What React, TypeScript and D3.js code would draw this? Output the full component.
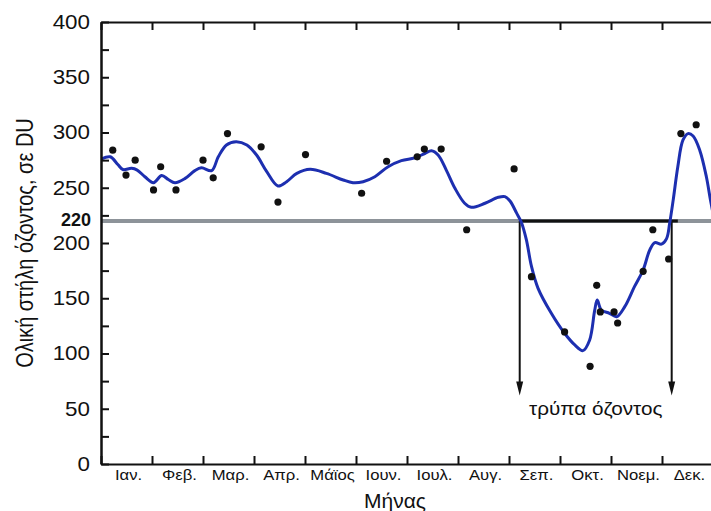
import { useEffect, useRef } from "react";
import * as d3 from "d3";

// month names (x axis), one per interval
const months = ["Ιαν.", "Φεβ.", "Μαρ.", "Απρ.", "Μάϊος", "Ιουν.", "Ιουλ.", "Αυγ.", "Σεπ.", "Οκτ.", "Νοεμ.", "Δεκ."];
const monthTicks = [0, 1, 2, 3, 4, 5, 6, 7, 8, 9, 10, 11, 12];
const yLabelTicks = [0, 50, 100, 150, 200, 250, 300, 350, 400];
const yMinorTicks = [25, 75, 125, 175, 225, 275, 325, 375];
const threshold = 220;

// smoothed curve (month position, DU)
const curveMonth = [0.01, 0.18, 0.33, 0.43, 0.6, 0.71, 0.86, 1.03, 1.19, 1.32, 1.45, 1.65, 1.84, 1.97, 2.17, 2.3, 2.46, 2.65, 2.86, 3.05, 3.25, 3.47, 3.64, 3.84, 4.1, 4.42, 4.75, 4.94, 5.14, 5.37, 5.63, 5.89, 6.15, 6.35, 6.48, 6.61, 6.77, 6.94, 7.13, 7.26, 7.53, 7.79, 7.92, 8.02, 8.15, 8.24, 8.34, 8.44, 8.57, 8.83, 9.09, 9.29, 9.45, 9.58, 9.68, 9.73, 9.81, 9.97, 10.11, 10.27, 10.46, 10.63, 10.76, 10.86, 10.99, 11.09, 11.15, 11.22, 11.31, 11.41, 11.51, 11.61, 11.74, 11.87, 11.95, 12.05];
const curveValue = [276, 278, 271, 266.5, 267.6, 266, 260, 254.6, 261, 257.5, 254.6, 258.5, 265.5, 268, 265.5, 278, 288.7, 291.7, 288.7, 279.6, 264.6, 251.6, 255.5, 263, 266.7, 263, 257, 254.6, 255.5, 260, 269, 274.5, 277, 281, 283.5, 279.6, 266, 249.5, 236, 232.3, 236, 241.4, 242, 238, 227, 219, 203, 179, 159, 136.4, 118.3, 107.7, 102.6, 112, 139, 148.4, 139.4, 136.4, 133.3, 142.4, 160.5, 175.6, 193.7, 200.3, 199, 204, 217.8, 239, 269, 293, 299, 296.8, 284, 260, 239, 215];

// measurements
const dotMonth = [0.23, 0.49, 0.67, 1.03, 1.17, 1.47, 2.0, 2.2, 2.48, 3.14, 3.47, 4.01, 5.11, 5.6, 6.2, 6.34, 6.67, 7.17, 8.1, 8.44, 9.09, 9.59, 9.72, 9.79, 10.06, 10.13, 10.63, 10.82, 11.13, 11.37, 11.67];
const dotValue = [284, 261.5, 275, 248, 269, 248, 275, 259, 299, 287, 237, 280, 245, 274, 278, 285, 285, 212, 267, 169.5, 119.5, 88.4, 161.7, 137.6, 137.6, 127.6, 174.4, 212, 185.5, 299, 307];

// ozone hole markers
const holeStart = 8.21;
const holeEnd = 11.19;
const holeLineEnd = 11.31;
const arrowValue = 62;

export default function App() {
  const ref = useRef<SVGSVGElement>(null);

  useEffect(() => {
    document.body.style.margin = "0";
    const svg = d3.select(ref.current);
    svg.selectAll("*").remove();

    const x = d3.scaleLinear().domain([0, 12]).range([101, 713]);
    const y = d3.scaleLinear().domain([0, 400]).range([464, 22]);
    const font = "'Liberation Sans', Arial, sans-serif";
    const stretch = 1.12; // glyphs in the original are a bit wide

    svg.append("defs").append("clipPath").attr("id", "plot")
      .append("rect").attr("x", 101).attr("y", 22).attr("width", 612).attr("height", 442);

    // threshold line
    svg.append("line")
      .attr("x1", x(0)).attr("x2", x(12))
      .attr("y1", y(threshold)).attr("y2", y(threshold))
      .attr("stroke", "#8d9399").attr("stroke-width", 4);

    // hole markers
    svg.append("line")
      .attr("x1", x(holeStart)).attr("x2", x(holeLineEnd))
      .attr("y1", y(threshold)).attr("y2", y(threshold))
      .attr("stroke", "#111").attr("stroke-width", 3);

    [holeStart, holeEnd].forEach(m => {
      svg.append("line")
        .attr("x1", x(m)).attr("x2", x(m))
        .attr("y1", y(threshold)).attr("y2", y(arrowValue) - 10)
        .attr("stroke", "#111").attr("stroke-width", 2);
      svg.append("path")
        .attr("d", `M${x(m) - 3.5},${y(arrowValue) - 14} L${x(m) + 3.5},${y(arrowValue) - 14} L${x(m)},${y(arrowValue)} Z`)
        .attr("fill", "#111");
    });

    svg.append("g")
      .attr("transform", `translate(${(x(holeStart) + x(holeEnd)) / 2},415) scale(${stretch},1)`)
      .append("text")
      .attr("text-anchor", "middle")
      .style("font-family", font).style("font-size", "18.5px").attr("fill", "#111")
      .text("τρύπα όζοντος");

    // curve
    const pts = curveMonth.map((m, i) => [m, curveValue[i]] as [number, number]);
    const line = d3.line<[number, number]>()
      .x(d => x(d[0]))
      .y(d => y(d[1]))
      .curve(d3.curveCatmullRom.alpha(0.5));
    svg.append("path")
      .datum(pts)
      .attr("clip-path", "url(#plot)")
      .attr("d", line)
      .attr("fill", "none")
      .attr("stroke", "#1d2fb0")
      .attr("stroke-width", 3);

    // dots
    svg.append("g").selectAll("circle")
      .data(dotMonth.map((m, i) => [m, dotValue[i]]))
      .enter()
      .append("circle")
      .attr("cx", d => x(d[0]))
      .attr("cy", d => y(d[1]))
      .attr("r", 3.6)
      .attr("fill", "#111");

    // axes
    const left = svg.append("g")
      .attr("transform", `translate(${x(0)},0)`)
      .call(d3.axisLeft(y).tickValues(yLabelTicks).tickSizeInner(-8).tickSizeOuter(0).tickPadding(11));
    left.selectAll("text")
      .attr("x", -11 / stretch)
      .attr("transform", `scale(${stretch},1)`)
      .style("font-family", font).style("font-size", "20px").attr("fill", "#111");

    svg.append("g")
      .attr("transform", `translate(${x(0)},0)`)
      .call(d3.axisLeft(y).tickValues(yMinorTicks).tickSizeInner(-8).tickSizeOuter(0).tickFormat(() => ""));

    svg.append("text")
      .attr("x", x(0) - 10).attr("y", y(threshold) - 1).attr("dy", "0.32em")
      .attr("text-anchor", "end")
      .style("font-family", font).style("font-size", "18px").style("font-weight", "bold").attr("fill", "#111")
      .text(String(threshold));

    const bottom = svg.append("g")
      .attr("transform", `translate(0,${y(0)})`)
      .call(d3.axisBottom(x).tickValues(monthTicks).tickSizeInner(-8).tickSizeOuter(0).tickFormat(() => ""));

    svg.append("g")
      .attr("transform", `translate(0,${y(400)})`)
      .call(d3.axisTop(x).tickValues(monthTicks).tickSizeInner(-8).tickSizeOuter(0).tickFormat(() => ""));

    svg.selectAll(".domain").attr("stroke", "#111").attr("stroke-width", 2);
    svg.selectAll(".tick line").attr("stroke", "#111").attr("stroke-width", 2);
    bottom.raise();

    svg.append("g").selectAll("g")
      .data(months)
      .enter()
      .append("g")
      .attr("transform", (d, i) => `translate(${x(i + 0.5) + 2},480) scale(1.15,1)`)
      .append("text")
      .attr("text-anchor", "middle")
      .style("font-family", font).style("font-size", "14.5px").attr("fill", "#111")
      .text(d => d);

    svg.append("text")
      .attr("x", 395).attr("y", 508)
      .attr("text-anchor", "middle")
      .style("font-family", font).style("font-size", "21px").attr("fill", "#111")
      .text("Μήνας");

    svg.append("text")
      .attr("transform", `translate(33,243) scale(1.15,1) rotate(-90)`)
      .attr("text-anchor", "middle")
      .style("font-family", font).style("font-size", "20px").attr("fill", "#111")
      .text("Ολική στήλη όζοντος, σε DU");
  }, []);

  return <svg ref={ref} width={711} height={511} style={{ display: "block", background: "#fff" }} />;
}
